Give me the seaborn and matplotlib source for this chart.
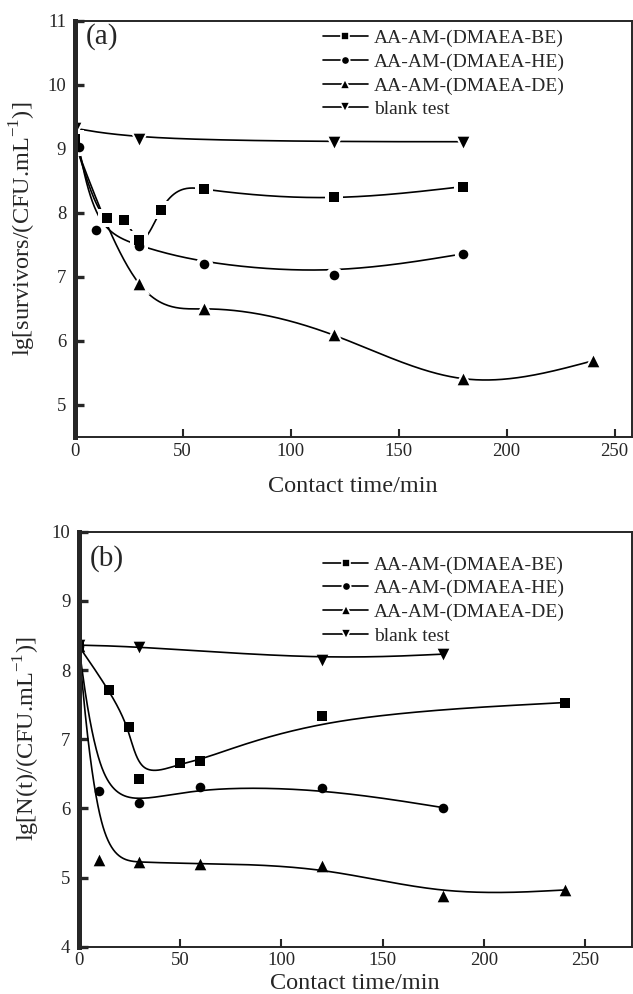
import numpy as np
import pandas as pd
import matplotlib
matplotlib.use("Agg")
import matplotlib.pyplot as plt
import seaborn as sns
from matplotlib.lines import Line2D

# === Panel (a): lg[survivors] vs contact time ===
a_be_t = [0, 15, 23, 30, 40, 60, 120, 180]
a_be_y = [9.15, 7.92, 7.88, 7.58, 8.04, 8.37, 8.24, 8.41]
a_he_t = [2, 10, 30, 60, 120, 180]
a_he_y = [9.02, 7.73, 7.48, 7.20, 7.03, 7.36]
a_de_t = [0, 30, 60, 120, 180, 240]
a_de_y = [9.1, 6.89, 6.50, 6.09, 5.41, 5.69]
a_bl_t = [0, 30, 120, 180]
a_bl_y = [9.32, 9.15, 9.11, 9.11]

# === Panel (b): lg[N(t)] vs contact time ===
b_be_t = [0, 15, 25, 30, 50, 60, 120, 240]
b_be_y = [8.35, 7.71, 7.17, 6.43, 6.65, 6.69, 7.34, 7.53]
b_he_t = [0, 10, 30, 60, 120, 180]
b_he_y = [8.35, 6.25, 6.08, 6.31, 6.29, 6.01]
b_de_t = [0, 10, 30, 60, 120, 180, 240]
b_de_y = [8.35, 5.26, 5.22, 5.20, 5.17, 4.73, 4.82]
b_bl_t = [0, 30, 120, 180]
b_bl_y = [8.36, 8.34, 8.15, 8.23]

labels = ["AA-AM-(DMAEA-BE)", "AA-AM-(DMAEA-HE)", "AA-AM-(DMAEA-DE)", "blank test"]
markers = ["s", "o", "^", "v"]


def spline(x, y, n=400):
    # natural cubic spline through the points
    x = np.asarray(x, float)
    y = np.asarray(y, float)
    h = np.diff(x)
    m = len(x)
    A = np.zeros((m, m))
    r = np.zeros(m)
    A[0, 0] = A[-1, -1] = 1
    for i in range(1, m - 1):
        A[i, i - 1] = h[i - 1]
        A[i, i] = 2 * (h[i - 1] + h[i])
        A[i, i + 1] = h[i]
        r[i] = 3 * ((y[i + 1] - y[i]) / h[i] - (y[i] - y[i - 1]) / h[i - 1])
    c = np.linalg.solve(A, r)
    b = (y[1:] - y[:-1]) / h - h * (2 * c[:-1] + c[1:]) / 3
    d = (c[1:] - c[:-1]) / (3 * h)
    xs = np.linspace(x[0], x[-1], n)
    k = np.clip(np.searchsorted(x, xs) - 1, 0, m - 2)
    dx = xs - x[k]
    return xs, y[k] + b[k] * dx + c[k] * dx ** 2 + d[k] * dx ** 3


def bspline(x, y, n=80):
    # uniform cubic B-spline using the points as control points
    p = np.column_stack([x, y]).astype(float)
    p = np.vstack([p[0], p[0], p, p[-1], p[-1]])
    u = np.linspace(0, 1, n)[:, None]
    b0 = (1 - u) ** 3 / 6
    b1 = (3 * u ** 3 - 6 * u ** 2 + 4) / 6
    b2 = (-3 * u ** 3 + 3 * u ** 2 + 3 * u + 1) / 6
    b3 = u ** 3 / 6
    seg = [b0 * p[i] + b1 * p[i + 1] + b2 * p[i + 2] + b3 * p[i + 3] for i in range(len(p) - 3)]
    c = np.vstack(seg)
    return c[:, 0], c[:, 1]


sns.set_style("ticks")
plt.rcParams["font.family"] = ["Liberation Serif", "DejaVu Serif"]
plt.rcParams["mathtext.fontset"] = "custom"
plt.rcParams["mathtext.rm"] = "Liberation Serif"

fig = plt.figure(figsize=(6.33, 9.94), dpi=100)
ax_a = fig.add_axes([0.1177, 0.5604, 0.8805, 0.4188])
ax_b = fig.add_axes([0.1243, 0.0476, 0.8739, 0.4175])


def draw(ax, t, y, mk, kind, gap):
    xs, ys = kind(t, y)
    sns.lineplot(x=xs, y=ys, sort=False, estimator=None, color="black", lw=1.2, ax=ax)
    size = 70 if mk in "^v" else 48
    if gap:
        sns.scatterplot(x=t, y=y, marker=mk, s=size * 3.2, color="white", linewidth=0, ax=ax, zorder=2.2)
    sns.scatterplot(x=t, y=y, marker=mk, s=size, color="black", linewidth=0, ax=ax, zorder=2.3)


draw(ax_a, a_bl_t, a_bl_y, "v", bspline, True)
draw(ax_a, a_be_t, a_be_y, "s", spline, True)
draw(ax_a, a_he_t, a_he_y, "o", bspline, True)
draw(ax_a, a_de_t, a_de_y, "^", spline, True)

draw(ax_b, b_bl_t, b_bl_y, "v", bspline, False)
draw(ax_b, b_be_t, b_be_y, "s", bspline, False)
draw(ax_b, b_he_t, b_he_y, "o", bspline, False)
draw(ax_b, b_de_t, b_de_y, "^", bspline, False)

handles = [Line2D([], [], color="black", lw=1.2, marker=m, markersize=7 if m in "^v" else 6,
                  markeredgecolor="white", markeredgewidth=1.2) for m in markers]

# ============ Axes styling ============
for ax, tag, ylab, ylim, yt, xmax, lpad, ly, lx, ltop in [
        (ax_a, "(a)", r"lg[survivors/(CFU.mL$^{\mathregular{-1}}$)]", (4.5, 11), range(5, 12), 258, 12,
         0.962, 0.439, 0.988),
        (ax_b, "(b)", r"lg[N(t)/(CFU.mL$^{\mathregular{-1}}$)]", (4, 10), range(4, 11), 273, 3,
         0.935, 0.435, 0.951)]:
    ax.set_xlim(0, xmax)
    ax.set_ylim(*ylim)
    ax.set_xticks(range(0, 251, 50))
    ax.set_yticks(list(yt))
    ax.spines["left"].set_linewidth(3.6)
    for s in ["bottom", "top", "right"]:
        ax.spines[s].set_linewidth(1.4)
    ax.tick_params(axis="y", direction="in", length=6.5, width=2.4, labelsize=13.5, pad=6, right=False)
    ax.tick_params(axis="x", direction="in", length=5.8, width=1.5, labelsize=13.5, pad=4, top=False)
    ax.set_xlabel("Contact time/min", fontsize=17.5, labelpad=lpad)
    ax.set_ylabel(ylab, fontsize=17.5, labelpad=7)
    ax.text(0.02, ly, tag, transform=ax.transAxes, fontsize=21, va="center", ha="left")
    ax.legend(handles, labels, loc="upper left", bbox_to_anchor=(lx, ltop), frameon=False,
              fontsize=14, handlelength=2.3, handletextpad=0.3, labelspacing=0.31,
              borderpad=0.2, borderaxespad=0)

fig.savefig("out.png", dpi=100)
